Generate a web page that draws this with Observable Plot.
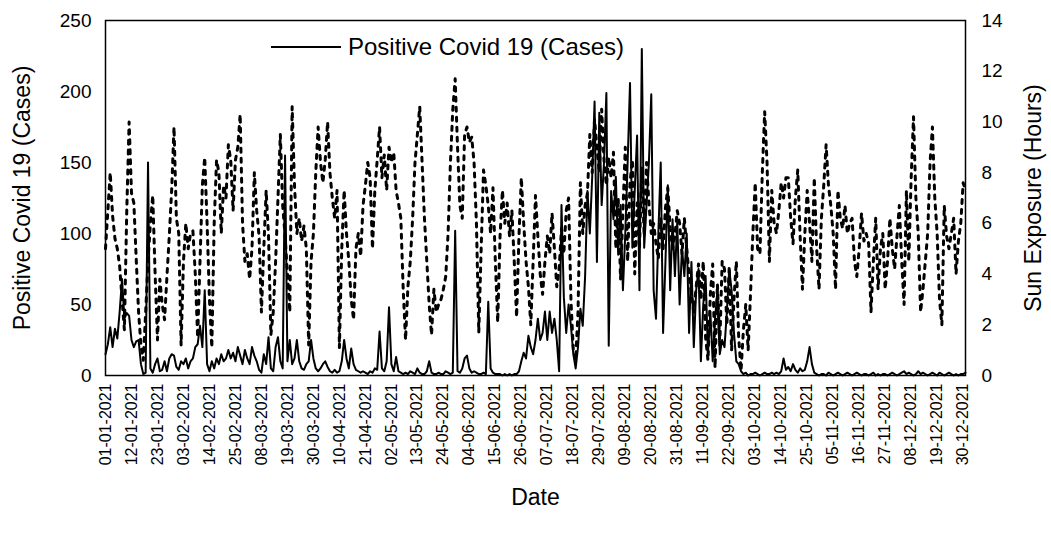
<!DOCTYPE html>
<html><head><meta charset="utf-8">
<script src="https://cdn.jsdelivr.net/npm/d3@7"></script>
<script src="https://cdn.jsdelivr.net/npm/@observablehq/plot@0.6"></script>
<style>
body{margin:0;background:#fff;font-family:"Liberation Sans",Arial,sans-serif}
#wrap{position:relative;width:1051px;height:536px}
#legend{position:absolute;left:271px;top:33px;display:flex;align-items:center;font-size:24px;color:#000;z-index:2}
</style></head><body>
<div id="wrap"><div id="legend"><svg width="70" height="4"><line x1="0" x2="70" y1="2" y2="2" stroke="#000" stroke-width="2"/></svg><span style="margin-left:7px">Positive Covid 19 (Cases)</span></div></div>
<script>
const tickLabels = ["01-01-2021","12-01-2021","23-01-2021","03-02-2021","14-02-2021","25-02-2021","08-03-2021","19-03-2021","30-03-2021","10-04-2021","21-04-2021","02-05-2021","13-05-2021","24-05-2021","04-06-2021","15-06-2021","26-06-2021","07-07-2021","18-07-2021","29-07-2021","09-08-2021","20-08-2021","31-08-2021","11-09-2021","22-09-2021","03-10-2021","14-10-2021","25-10-2021","05-11-2021","16-11-2021","27-11-2021","08-12-2021","19-12-2021","30-12-2021"];
const casesTicks = [0,50,100,150,200,250];
const sunTicks = [0,2,4,6,8,10,12,14];

// Daily positive Covid-19 cases, 01-01-2021 .. 31-12-2021
const cases = [
15,22,34,20,33,26,45,68,40,44,
42,25,20,24,25,8,1,2,150,5,
2,8,12,3,4,10,3,12,15,14,
6,4,10,8,12,5,10,12,20,22,
35,20,60,8,3,10,5,12,8,15,
10,12,18,12,16,10,20,14,8,18,
12,8,20,14,10,4,2,15,8,27,
5,3,20,27,10,5,155,10,25,8,
12,25,10,5,4,8,10,25,12,5,
3,5,8,10,6,3,2,4,2,3,
10,25,12,5,19,8,4,3,2,3,
2,1,3,2,5,4,31,5,3,10,
48,8,3,13,3,2,1,2,1,3,
2,1,5,2,1,1,3,10,2,1,
1,2,1,1,3,2,1,2,102,3,
2,5,12,14,5,2,3,2,1,1,
2,1,52,5,2,1,1,1,0,1,
0,1,0,1,1,3,10,16,12,28,
20,15,25,40,25,30,45,25,45,30,
40,25,3,120,55,30,50,35,15,5,
20,47,35,70,130,100,140,193,80,185,
120,150,199,21,130,110,140,85,120,60,
100,150,206,90,130,169,60,230,90,120,
150,198,60,40,100,150,30,80,134,60,
110,70,108,50,90,70,100,30,80,20,
60,75,10,50,70,15,45,10,40,60,
15,25,20,45,75,60,30,10,8,3,
1,2,0,1,1,2,1,0,1,2,
1,1,2,1,2,1,3,12,4,6,
3,8,4,2,5,3,4,10,20,8,
2,1,0,1,1,0,2,1,0,1,
2,1,0,1,2,1,0,1,2,1,
0,1,1,0,1,2,0,1,0,1,
1,0,1,2,1,0,1,2,3,1,
2,1,0,1,3,1,2,1,0,1,
2,1,0,2,1,0,1,2,1,0,
1,0,1,1,2
];

// Daily sun exposure (hours)
const sun = [
5.0,6.5,8.0,6.3,5.4,5.0,4.3,3.0,1.8,6.5,
10.0,7.2,6.8,4.6,2.5,1.2,0.6,2.5,4.5,6.0,
7.1,4.0,1.4,3.8,2.8,2.2,3.9,5.5,7.3,9.8,
6.2,5.6,1.2,4.5,6.0,5.0,5.6,5.7,4.0,1.5,
4.5,7.5,8.6,6.0,3.0,1.1,6.0,8.5,8.0,5.6,
7.5,7.0,9.1,8.5,6.5,8.5,9.0,10.3,6.0,4.5,
4.8,3.8,5.0,8.0,6.5,5.5,2.5,5.0,7.3,5.5,
1.6,2.5,4.5,7.0,9.5,6.7,5.5,4.0,2.5,10.6,
7.5,5.6,6.2,5.3,5.9,5.0,1.2,4.5,5.6,8.0,
9.8,8.4,7.6,8.5,10.0,8.0,7.0,6.2,7.3,1.1,
5.0,7.3,5.6,4.5,3.0,2.2,5.0,5.6,4.7,6.7,
7.5,8.4,7.8,5.0,7.3,8.5,9.8,7.8,8.7,7.3,
9.0,8.4,8.8,7.3,6.8,6.2,3.4,1.4,3.5,4.5,
6.2,8.4,9.5,10.6,8.4,6.2,4.5,2.8,1.6,3.4,
2.5,2.8,3.0,3.4,3.9,5.6,8.4,10.5,11.7,9.0,
6.7,6.2,9.5,9.8,9.2,9.4,8.4,6.0,1.7,5.0,
8.1,7.5,6.7,5.6,7.4,4.5,2.1,5.5,7.3,6.0,
6.8,5.5,6.5,4.5,2.3,5.5,7.8,6.0,4.5,3.5,
2.0,4.5,7.1,5.5,4.0,3.2,4.5,5.5,4.8,6.4,
5.0,3.5,4.2,5.8,4.8,6.5,7.0,3.0,1.0,0.6,
2.5,7.6,5.6,6.7,7.2,9.5,8.0,10.1,9.0,8.0,
10.5,8.5,7.5,8.6,7.8,8.8,5.0,7.0,3.8,6.5,
9.0,4.5,7.6,8.5,4.0,6.8,5.0,8.2,5.5,8.4,
6.8,5.6,6.0,5.2,4.6,6.2,5.0,6.6,7.4,5.8,
5.0,5.5,6.5,6.0,4.8,6.2,5.0,4.0,3.2,2.5,
3.5,4.4,3.0,4.5,1.5,0.6,3.2,4.4,0.3,3.6,
1.2,4.5,4.2,2.0,4.3,1.0,3.0,4.5,1.5,0.2,
1.8,2.8,1.0,3.2,5.6,7.6,5.0,4.8,8.0,10.4,
8.4,4.5,7.3,6.0,5.6,6.5,7.6,7.0,7.8,7.8,
6.2,5.2,7.0,8.1,5.5,3.4,5.6,7.3,6.0,4.5,
7.8,5.0,3.4,6.2,7.5,9.1,7.5,6.7,5.6,3.4,
7.3,6.2,5.8,6.7,5.6,6.0,6.2,4.5,3.9,5.0,
6.4,5.3,5.6,5.2,2.5,4.5,6.2,3.4,5.0,5.6,
3.4,4.5,6.2,5.0,4.2,5.5,6.7,4.5,2.8,7.3,
4.5,7.8,10.2,7.0,5.6,2.5,3.4,4.5,5.6,8.4,
9.8,7.0,5.6,3.0,2.0,6.7,5.5,5.0,5.6,6.2,
4.0,5.3,6.0,7.6,7.3
];

const CASES_MAX = 250, SUN_MAX = 14;
const toCases = h => h * CASES_MAX / SUN_MAX;
const days = cases.map((_, i) => i);
const tickPos = tickLabels.map((_, i) => i * 11);
const font = "Liberation Sans, Arial, sans-serif";

const chart = Plot.plot({
  width: 1051,
  height: 536,
  marginTop: 20,
  marginRight: 86,
  marginBottom: 161,
  marginLeft: 105,
  style: {fontFamily: font, fontSize: "18px", background: "white", color: "#000"},
  x: {type: "linear", domain: [0, 364]},
  y: {domain: [0, CASES_MAX]},
  marks: [
    Plot.lineY(sun, {x: days, y: sun.map(toCases), stroke: "#000", strokeWidth: 3, strokeDasharray: "4,6", strokeLinecap: "round"}),
    Plot.lineY(cases, {x: days, y: cases, stroke: "#000", strokeWidth: 2}),
    Plot.frame({stroke: "#000", strokeWidth: 1.5}),
    Plot.axisX({ticks: tickPos, tickFormat: (d, i) => tickLabels[i], tickRotate: -90, tickSize: 0, tickPadding: 8, fontSize: 16, label: null}),
    Plot.axisX({ticks: [], label: "Date", labelAnchor: "center", labelArrow: "none", labelOffset: 129, fontSize: 23}),
    Plot.axisY({ticks: casesTicks, tickSize: 0, tickPadding: 14, fontSize: 19, label: null}),
    Plot.axisY({ticks: [], label: "Positive Covid 19 (Cases)", labelAnchor: "center", labelArrow: "none", labelOffset: 92, fontSize: 23}),
    Plot.axisY({anchor: "right", ticks: sunTicks.map(toCases), tickFormat: (d, i) => sunTicks[i], tickSize: 0, tickPadding: 16, fontSize: 19, label: null}),
    Plot.axisY({anchor: "right", ticks: [], label: "Sun Exposure (Hours)", labelAnchor: "center", labelArrow: "none", labelOffset: 75, fontSize: 23})
  ]
});
document.getElementById("wrap").prepend(chart);
</script>
</body></html>
